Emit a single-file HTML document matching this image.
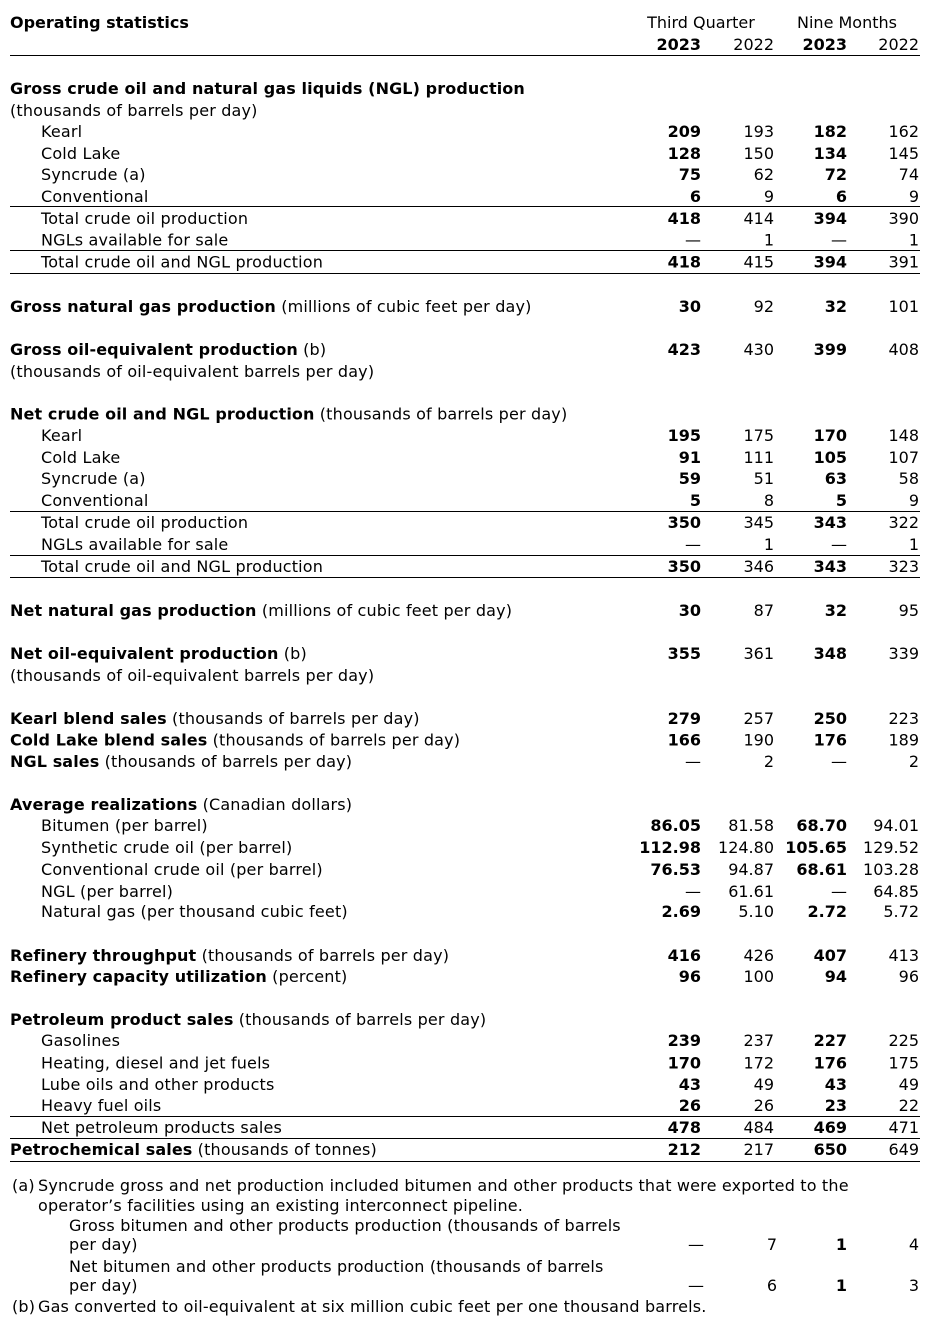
<!DOCTYPE html>
<html>
<head>
<meta charset="utf-8">
<style>
html,body{margin:0;padding:0;background:#fff;}
svg{display:block;}
text{font-family:"DejaVu Sans",Verdana,"Liberation Sans",sans-serif;font-size:16px;fill:#000;}
.b{font-weight:bold;}
.e{text-anchor:end;}
.l text{letter-spacing:0.17px;}
.l tspan.b{letter-spacing:0.1px;}
.l text.b{letter-spacing:0.1px;}
.d{font-weight:normal;}
</style>
</head>
<body>
<svg width="936" height="1320" viewBox="0 0 936 1320" xmlns="http://www.w3.org/2000/svg">
<!-- rules -->
<g fill="#000">
<rect x="10" y="55" width="910" height="1"/>
<rect x="10" y="206" width="910" height="1"/>
<rect x="10" y="250" width="910" height="1"/>
<rect x="10" y="273" width="910" height="1"/>
<rect x="10" y="511" width="910" height="1"/>
<rect x="10" y="555" width="910" height="1"/>
<rect x="10" y="577" width="910" height="1"/>
<rect x="10" y="1116" width="910" height="1"/>
<rect x="10" y="1138" width="910" height="1"/>
<rect x="10" y="1161" width="910" height="1"/>
</g>

<!-- header -->
<text x="10" y="28" class="b">Operating statistics</text>
<text x="701" y="28" text-anchor="middle">Third Quarter</text>
<text x="847" y="28" text-anchor="middle">Nine Months</text>
<text x="701" y="50" class="b e">2023</text>
<text x="774" y="50" class="e">2022</text>
<text x="847" y="50" class="b e">2023</text>
<text x="919" y="50" class="e">2022</text>

<g class="l">
<!-- left labels -->
<text x="10" y="94" class="b">Gross crude oil and natural gas liquids (NGL) production</text>
<text x="10" y="116">(thousands of barrels per day)</text>
<text x="41" y="137">Kearl</text>
<text x="41" y="159">Cold Lake</text>
<text x="41" y="180">Syncrude (a)</text>
<text x="41" y="202">Conventional</text>
<text x="41" y="224">Total crude oil production</text>
<text x="41" y="245.5">NGLs available for sale</text>
<text x="41" y="267.5">Total crude oil and NGL production</text>

<text x="10" y="312"><tspan class="b">Gross natural gas production</tspan> (millions of cubic feet per day)</text>

<text x="10" y="355"><tspan class="b">Gross oil-equivalent production</tspan> (b)</text>
<text x="10" y="377">(thousands of oil-equivalent barrels per day)</text>

<text x="10" y="419.5"><tspan class="b">Net crude oil and NGL production</tspan> (thousands of barrels per day)</text>
<text x="41" y="441">Kearl</text>
<text x="41" y="463">Cold Lake</text>
<text x="41" y="484">Syncrude (a)</text>
<text x="41" y="506">Conventional</text>
<text x="41" y="528">Total crude oil production</text>
<text x="41" y="550">NGLs available for sale</text>
<text x="41" y="572">Total crude oil and NGL production</text>

<text x="10" y="616"><tspan class="b">Net natural gas production</tspan> (millions of cubic feet per day)</text>

<text x="10" y="659"><tspan class="b">Net oil-equivalent production</tspan> (b)</text>
<text x="10" y="681">(thousands of oil-equivalent barrels per day)</text>

<text x="10" y="724"><tspan class="b">Kearl blend sales</tspan> (thousands of barrels per day)</text>
<text x="10" y="745.5"><tspan class="b">Cold Lake blend sales</tspan> (thousands of barrels per day)</text>
<text x="10" y="767"><tspan class="b">NGL sales</tspan> (thousands of barrels per day)</text>

<text x="10" y="810"><tspan class="b">Average realizations</tspan> (Canadian dollars)</text>
<text x="41" y="831">Bitumen (per barrel)</text>
<text x="41" y="853">Synthetic crude oil (per barrel)</text>
<text x="41" y="875">Conventional crude oil (per barrel)</text>
<text x="41" y="897">NGL (per barrel)</text>
<text x="41" y="917">Natural gas (per thousand cubic feet)</text>

<text x="10" y="961"><tspan class="b">Refinery throughput</tspan> (thousands of barrels per day)</text>
<text x="10" y="982"><tspan class="b">Refinery capacity utilization</tspan> (percent)</text>

<text x="10" y="1025"><tspan class="b">Petroleum product sales</tspan> (thousands of barrels per day)</text>
<text x="41" y="1046">Gasolines</text>
<text x="41" y="1068.5">Heating, diesel and jet fuels</text>
<text x="41" y="1090">Lube oils and other products</text>
<text x="41" y="1111">Heavy fuel oils</text>
<text x="41" y="1133">Net petroleum products sales</text>
<text x="10" y="1155"><tspan class="b">Petrochemical sales</tspan> (thousands of tonnes)</text>

<!-- footnotes -->
<text x="12" y="1191">(a)</text>
<text x="38" y="1191">Syncrude gross and net production included bitumen and other products that were exported to the</text>
<text x="38" y="1211">operator’s facilities using an existing interconnect pipeline.</text>
<text x="69" y="1231">Gross bitumen and other products production (thousands of barrels</text>
<text x="69" y="1250">per day)</text>
<text x="69" y="1272">Net bitumen and other products production (thousands of barrels</text>
<text x="69" y="1291">per day)</text>
<text x="12" y="1312">(b)</text>
<text x="38" y="1312">Gas converted to oil-equivalent at six million cubic feet per one thousand barrels.</text>
</g>

<!-- column 1 : Q3 2023 (bold) -->
<g class="b e">
<text x="701" y="137">209</text>
<text x="701" y="159">128</text>
<text x="701" y="180">75</text>
<text x="701" y="202">6</text>
<text x="701" y="224">418</text>
<text x="701" y="245.5" class="d">—</text>
<text x="701" y="267.5">418</text>
<text x="701" y="312">30</text>
<text x="701" y="355">423</text>
<text x="701" y="441">195</text>
<text x="701" y="463">91</text>
<text x="701" y="484">59</text>
<text x="701" y="506">5</text>
<text x="701" y="528">350</text>
<text x="701" y="550" class="d">—</text>
<text x="701" y="572">350</text>
<text x="701" y="616">30</text>
<text x="701" y="659">355</text>
<text x="701" y="724">279</text>
<text x="701" y="745.5">166</text>
<text x="701" y="767" class="d">—</text>
<text x="701" y="831">86.05</text>
<text x="701" y="853">112.98</text>
<text x="701" y="875">76.53</text>
<text x="701" y="897" class="d">—</text>
<text x="701" y="917">2.69</text>
<text x="701" y="961">416</text>
<text x="701" y="982">96</text>
<text x="701" y="1046">239</text>
<text x="701" y="1068.5">170</text>
<text x="701" y="1090">43</text>
<text x="701" y="1111">26</text>
<text x="701" y="1133">478</text>
<text x="701" y="1155">212</text>
</g>
<g class="e">
<text x="704" y="1250">—</text>
<text x="704" y="1291">—</text>
</g>

<!-- column 2 : Q3 2022 -->
<g class="e">
<text x="774" y="137">193</text>
<text x="774" y="159">150</text>
<text x="774" y="180">62</text>
<text x="774" y="202">9</text>
<text x="774" y="224">414</text>
<text x="774" y="245.5">1</text>
<text x="774" y="267.5">415</text>
<text x="774" y="312">92</text>
<text x="774" y="355">430</text>
<text x="774" y="441">175</text>
<text x="774" y="463">111</text>
<text x="774" y="484">51</text>
<text x="774" y="506">8</text>
<text x="774" y="528">345</text>
<text x="774" y="550">1</text>
<text x="774" y="572">346</text>
<text x="774" y="616">87</text>
<text x="774" y="659">361</text>
<text x="774" y="724">257</text>
<text x="774" y="745.5">190</text>
<text x="774" y="767">2</text>
<text x="774" y="831">81.58</text>
<text x="774" y="853">124.80</text>
<text x="774" y="875">94.87</text>
<text x="774" y="897">61.61</text>
<text x="774" y="917">5.10</text>
<text x="774" y="961">426</text>
<text x="774" y="982">100</text>
<text x="774" y="1046">237</text>
<text x="774" y="1068.5">172</text>
<text x="774" y="1090">49</text>
<text x="774" y="1111">26</text>
<text x="774" y="1133">484</text>
<text x="774" y="1155">217</text>
<text x="777" y="1250">7</text>
<text x="777" y="1291">6</text>
</g>

<!-- column 3 : 9M 2023 (bold) -->
<g class="b e">
<text x="847" y="137">182</text>
<text x="847" y="159">134</text>
<text x="847" y="180">72</text>
<text x="847" y="202">6</text>
<text x="847" y="224">394</text>
<text x="847" y="245.5" class="d">—</text>
<text x="847" y="267.5">394</text>
<text x="847" y="312">32</text>
<text x="847" y="355">399</text>
<text x="847" y="441">170</text>
<text x="847" y="463">105</text>
<text x="847" y="484">63</text>
<text x="847" y="506">5</text>
<text x="847" y="528">343</text>
<text x="847" y="550" class="d">—</text>
<text x="847" y="572">343</text>
<text x="847" y="616">32</text>
<text x="847" y="659">348</text>
<text x="847" y="724">250</text>
<text x="847" y="745.5">176</text>
<text x="847" y="767" class="d">—</text>
<text x="847" y="831">68.70</text>
<text x="847" y="853">105.65</text>
<text x="847" y="875">68.61</text>
<text x="847" y="897" class="d">—</text>
<text x="847" y="917">2.72</text>
<text x="847" y="961">407</text>
<text x="847" y="982">94</text>
<text x="847" y="1046">227</text>
<text x="847" y="1068.5">176</text>
<text x="847" y="1090">43</text>
<text x="847" y="1111">23</text>
<text x="847" y="1133">469</text>
<text x="847" y="1155">650</text>
<text x="847" y="1250">1</text>
<text x="847" y="1291">1</text>
</g>

<!-- column 4 : 9M 2022 -->
<g class="e">
<text x="919" y="137">162</text>
<text x="919" y="159">145</text>
<text x="919" y="180">74</text>
<text x="919" y="202">9</text>
<text x="919" y="224">390</text>
<text x="919" y="245.5">1</text>
<text x="919" y="267.5">391</text>
<text x="919" y="312">101</text>
<text x="919" y="355">408</text>
<text x="919" y="441">148</text>
<text x="919" y="463">107</text>
<text x="919" y="484">58</text>
<text x="919" y="506">9</text>
<text x="919" y="528">322</text>
<text x="919" y="550">1</text>
<text x="919" y="572">323</text>
<text x="919" y="616">95</text>
<text x="919" y="659">339</text>
<text x="919" y="724">223</text>
<text x="919" y="745.5">189</text>
<text x="919" y="767">2</text>
<text x="919" y="831">94.01</text>
<text x="919" y="853">129.52</text>
<text x="919" y="875">103.28</text>
<text x="919" y="897">64.85</text>
<text x="919" y="917">5.72</text>
<text x="919" y="961">413</text>
<text x="919" y="982">96</text>
<text x="919" y="1046">225</text>
<text x="919" y="1068.5">175</text>
<text x="919" y="1090">49</text>
<text x="919" y="1111">22</text>
<text x="919" y="1133">471</text>
<text x="919" y="1155">649</text>
<text x="919" y="1250">4</text>
<text x="919" y="1291">3</text>
</g>
</svg>
</body>
</html>
